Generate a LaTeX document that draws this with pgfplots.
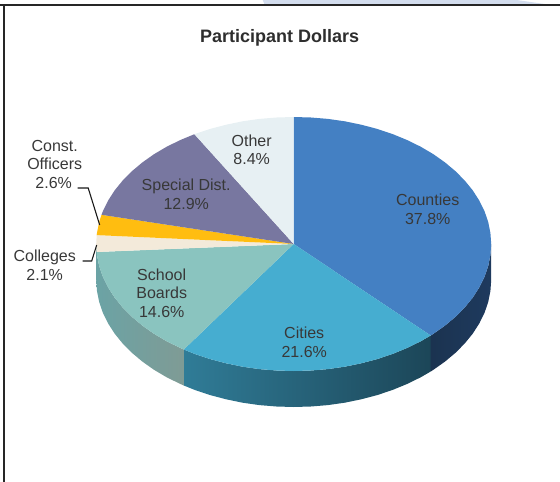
\documentclass[border=0pt]{standalone}
\usepackage{pgfplots}
\pgfplotsset{compat=1.18}
\usepackage{fontspec}
\setmainfont{Liberation Sans}
\definecolor{cCounties}{HTML}{4480C3}
\definecolor{cCities}{HTML}{46ADD0}
\definecolor{cSchool}{HTML}{8AC4BF}
\definecolor{cColleges}{HTML}{F3EADA}
\definecolor{cConst}{HTML}{FFBD10}
\definecolor{cSpecial}{HTML}{7877A0}
\definecolor{cOther}{HTML}{E7F0F3}
\definecolor{cText}{HTML}{383838}
\definecolor{cBand}{HTML}{D3DDEE}
\definecolor{cWallA}{HTML}{1B3350}
\definecolor{cWallB}{HTML}{1E3A5E}
\definecolor{cWallC}{HTML}{1C4658}
\definecolor{cWallD}{HTML}{1E5062}
\definecolor{cWallE}{HTML}{307C97}
\definecolor{cWallF}{HTML}{6BA3A5}
\definecolor{cWallG}{HTML}{7A9C9C}
\definecolor{cWallH}{HTML}{7F9B95}
\newcommand{\lbl}[3]{\node[text=cText,align=center,inner sep=0pt,font=\fontsize{16}{18.5}\selectfont] at (axis cs:#1,#2) {#3};}
\begin{document}
\begin{tikzpicture}
\path[use as bounding box] (0,0) rectangle (560pt,482pt);
\begin{axis}[
  at={(0,0)}, anchor=south west,
  scale only axis, width=560pt, height=482pt,
  xmin=0.3, xmax=560.3, ymin=0, ymax=482, y dir=reverse,
  axis lines=none, clip=true,
]
% band along the top edge and the frame
\addplot[draw=none,fill=cBand] coordinates {(263,0) (265,5) (552,5) (517,0)} -- cycle;
\addplot[draw=black!85,line width=2pt] coordinates {(-1,5.3) (561,5.3)};
\addplot[draw=black!85,line width=2pt] coordinates {(3.8,5.3) (3.8,483)};

% side walls, drawn 36 units below the rim
\addplot[draw=none,left color=cWallA,right color=cWallB,forget plot] coordinates {
 (491.5,244) (490.7,255.1) (488.5,266.1) (484.8,276.9) (479.6,287.4) (473.0,297.7) (465.0,307.5) (455.8,316.8) (445.3,325.6) (433.7,333.8) (431.0,335.5)
 (431.0,371.5) (433.7,369.8) (445.3,361.6) (455.8,352.8) (465.0,343.5) (473.0,333.7) (479.6,323.4) (484.8,312.9) (488.5,302.1) (490.7,291.1) (491.5,280)} -- cycle;
\addplot[draw=none,left color=cWallE,middle color=cWallD,right color=cWallC,forget plot] coordinates {
 (431.0,335.5) (421.0,341.3) (407.3,348.0) (392.75,354.0) (377.5,359.1) (361.5,363.3) (345.1,366.7) (328.3,369.1) (311.2,370.5) (294,371) (276.8,370.5) (259.7,369.1) (242.9,366.7) (226.5,363.3) (210.5,359.1) (195.25,354.0) (184.1,349.5)
 (184.1,385.5) (195.25,390.0) (210.5,395.1) (226.5,399.3) (242.9,402.7) (259.7,405.1) (276.8,406.5) (294,407) (311.2,406.5) (328.3,405.1) (345.1,402.7) (361.5,399.3) (377.5,395.1) (392.75,390.0) (407.3,384.0) (421.0,377.3) (431.0,371.5)} -- cycle;
\addplot[draw=none,left color=cWallF,middle color=cWallG,right color=cWallH,forget plot] coordinates {
 (184.1,349.5) (180.7,348.0) (167.0,341.3) (154.3,333.8) (142.7,325.6) (132.2,316.8) (123.0,307.5) (115.0,297.7) (108.4,287.4) (103.2,276.9) (99.5,266.1) (97.3,255.1) (96.5,244)
 (96.5,280) (97.3,291.1) (99.5,302.1) (103.2,312.9) (108.4,323.4) (115.0,333.7) (123.0,343.5) (132.2,352.8) (142.7,361.6) (154.3,369.8) (167.0,377.3) (180.7,384.0) (184.1,385.5)} -- cycle;

% top face: one wedge per share, clockwise from twelve o'clock
% Counties 37.8
\addplot[draw=none,fill=cCounties] coordinates {(294,244) (294,117) (311.2,117.5) (328.3,118.9) (345.1,121.3) (361.5,124.7) (377.5,128.9) (392.75,134.0) (407.3,140.0) (421.0,146.7) (433.7,154.2) (445.3,162.4) (455.8,171.2) (465.0,180.5) (473.0,190.3) (479.6,200.6) (484.8,211.1) (488.5,221.9) (490.7,232.9) (491.5,244) (490.7,255.1) (488.5,266.1) (484.8,276.9) (479.6,287.4) (473.0,297.7) (465.0,307.5) (455.8,316.8) (445.3,325.6) (433.7,333.8) (431.0,335.5)} -- cycle;
% Cities 21.6
\addplot[draw=none,fill=cCities] coordinates {(294,244) (431.0,335.5) (421.0,341.3) (407.3,348.0) (392.75,354.0) (377.5,359.1) (361.5,363.3) (345.1,366.7) (328.3,369.1) (311.2,370.5) (294,371) (276.8,370.5) (259.7,369.1) (242.9,366.7) (226.5,363.3) (210.5,359.1) (195.25,354.0) (184.1,349.5)} -- cycle;
% School Boards 14.6
\addplot[draw=none,fill=cSchool] coordinates {(294,244) (184.1,349.5) (180.7,348.0) (167.0,341.3) (154.3,333.8) (142.7,325.6) (132.2,316.8) (123.0,307.5) (115.0,297.7) (108.4,287.4) (103.2,276.9) (99.5,266.1) (97.3,255.1) (96.9,252.0)} -- cycle;
% Colleges 2.1
\addplot[draw=none,fill=cColleges] coordinates {(294,244) (96.9,252.0) (96.5,244) (97.0,235.1)} -- cycle;
% Const. Officers 2.6
\addplot[draw=none,fill=cConst] coordinates {(294,244) (97.0,235.1) (97.3,232.9) (99.5,221.9) (101.8,214.8)} -- cycle;
% Special Dist. 12.9
\addplot[draw=none,fill=cSpecial] coordinates {(294,244) (101.8,214.8) (103.2,211.1) (108.4,200.6) (115.0,190.3) (123.0,180.5) (132.2,171.2) (142.7,162.4) (154.3,154.2) (167.0,146.7) (180.7,140.0) (194.7,134.2)} -- cycle;
% Other 8.4
\addplot[draw=none,fill=cOther] coordinates {(294,244) (194.7,134.2) (195.25,134.0) (210.5,128.9) (226.5,124.7) (242.9,121.3) (259.7,118.9) (276.8,117.5) (294,117)} -- cycle;

% leader lines
\addplot[draw=black!90,line width=1.1pt] coordinates {(78,188) (88.5,188) (100,225)};
\addplot[draw=black!90,line width=1.1pt] coordinates {(83,261) (92,261) (97,245)};

\node[text=black!82,inner sep=0pt,font=\fontsize{18}{20}\selectfont\bfseries] at (axis cs:280,37.5) {Participant Dollars};
\lbl{55}{155}{Const.\\Officers}
\lbl{54}{183}{2.6\%}
\lbl{45}{265}{Colleges\\2.1\%}
\lbl{186.5}{194.5}{Special Dist.\\12.9\%}
\lbl{252}{150}{Other\\8.4\%}
\lbl{428}{209.5}{Counties\\37.8\%}
\lbl{304.5}{342.5}{Cities\\21.6\%}
\lbl{162}{293}{School\\Boards\\14.6\%}
\end{axis}
\end{tikzpicture}
\end{document}
